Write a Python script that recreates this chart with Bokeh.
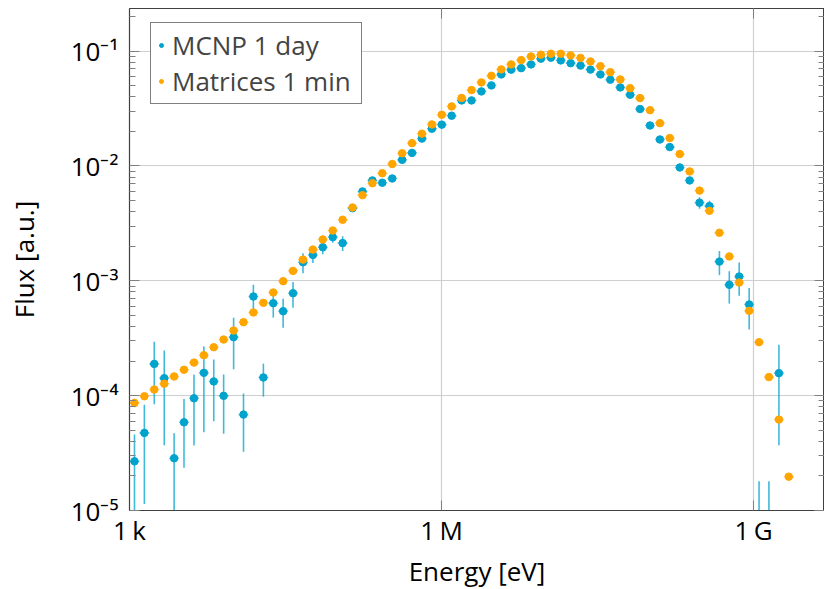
import numpy as np
from bokeh.plotting import figure
from bokeh.models import (ColumnDataSource, FixedTicker, LogAxis, Legend, LegendItem,
                          Range1d, CustomJSTickFormatter)
from bokeh.embed import file_html
from bokeh.resources import INLINE

# ---- data (log10 of bin-centre energy in eV) ----
log_energy = [3.048, 3.143, 3.238, 3.334, 3.429, 3.524, 3.620, 3.715, 3.810, 3.905,
              4.001, 4.096, 4.191, 4.287, 4.382, 4.477, 4.572, 4.668, 4.763, 4.858,
              4.954, 5.049, 5.144, 5.240, 5.335, 5.430, 5.526, 5.621, 5.716, 5.811,
              5.907, 6.002, 6.097, 6.193, 6.288, 6.383, 6.479, 6.574, 6.669, 6.765,
              6.860, 6.955, 7.051, 7.146, 7.241, 7.336, 7.432, 7.527, 7.622, 7.718,
              7.813, 7.908, 8.004, 8.099, 8.194, 8.290, 8.385, 8.480, 8.575, 8.671,
              8.766, 8.861, 8.957, 9.052, 9.147, 9.243, 9.338]
half_bin_decades = 0.0476

matrices_flux = [8.65e-5, 9.88e-5, 1.13e-4, 1.27e-4, 1.47e-4, 1.68e-4, 1.94e-4, 2.25e-4, 2.64e-4, 3.08e-4,
                 3.69e-4, 4.36e-4, 5.30e-4, 6.43e-4, 7.91e-4, 9.93e-4, 1.22e-3, 1.53e-3, 1.87e-3, 2.29e-3,
                 2.74e-3, 3.40e-3, 4.35e-3, 5.57e-3, 7.08e-3, 8.65e-3, 1.04e-2, 1.29e-2, 1.58e-2, 1.91e-2,
                 2.30e-2, 2.79e-2, 3.30e-2, 3.91e-2, 4.58e-2, 5.34e-2, 6.10e-2, 6.93e-2, 7.66e-2, 8.35e-2,
                 8.99e-2, 9.31e-2, 9.48e-2, 9.48e-2, 9.18e-2, 8.73e-2, 8.13e-2, 7.40e-2, 6.56e-2, 5.67e-2,
                 4.76e-2, 3.90e-2, 3.06e-2, 2.36e-2, 1.75e-2, 1.27e-2, 8.96e-3, 6.10e-3, 4.07e-3, 2.62e-3,
                 1.63e-3, 9.66e-4, 5.48e-4, 2.92e-4, 1.45e-4, 6.19e-5, 1.97e-5]

mcnp_flux = [2.68e-5, 4.74e-5, 1.89e-4, 1.42e-4, 2.85e-5, 5.86e-5, 9.49e-5, 1.58e-4, 1.33e-4, 9.96e-5,
             3.23e-4, 6.84e-5, 7.30e-4, 1.44e-4, 6.38e-4, 5.44e-4, 7.80e-4, 1.45e-3, 1.68e-3, 1.96e-3,
             2.40e-3, 2.13e-3, 4.29e-3, 6.00e-3, 7.48e-3, 7.14e-3, 7.78e-3, 1.13e-2, 1.30e-2, 1.73e-2,
             2.11e-2, 2.29e-2, 2.74e-2, 3.72e-2, 3.72e-2, 4.46e-2, 5.03e-2, 6.27e-2, 6.89e-2, 7.11e-2,
             7.66e-2, 8.59e-2, 8.77e-2, 8.30e-2, 7.86e-2, 7.48e-2, 6.90e-2, 6.27e-2, 5.64e-2, 4.83e-2,
             4.17e-2, 3.13e-2, 2.25e-2, 1.70e-2, 1.46e-2, 9.70e-3, 7.48e-3, 4.79e-3, 4.47e-3, 1.47e-3,
             9.23e-4, 1.09e-3, 6.22e-4, 6.0e-6, 6.0e-6, 1.57e-4, float("nan")]

mcnp_sigma = [1.9e-5, 3.6e-5, 1.05e-4, 1.05e-4, 1.85e-5, 3.5e-5, 5.8e-5, 1.1e-4, 7.3e-5, 5.3e-5,
              1.53e-4, 3.6e-5, 1.95e-4, 4.6e-5, 1.6e-4, 1.53e-4, 1.97e-4, 2.85e-4, 2.5e-4, 2.6e-4,
              2.5e-4, 3.1e-4, 2.5e-4, 3.0e-4, 3.5e-4, 4.0e-4, 4.0e-4, 5.0e-4, 5.0e-4, 6.0e-4,
              6.5e-4, 7.0e-4, 8.0e-4, 1.0e-3, 1.0e-3, 1.1e-3, 1.2e-3, 1.4e-3, 1.5e-3, 1.5e-3,
              1.6e-3, 1.7e-3, 1.7e-3, 1.7e-3, 1.6e-3, 1.6e-3, 1.5e-3, 1.4e-3, 1.3e-3, 1.2e-3,
              1.1e-3, 9.0e-4, 7.0e-4, 6.0e-4, 5.5e-4, 4.5e-4, 4.0e-4, 5.5e-4, 5.2e-4, 3.5e-4,
              2.9e-4, 3.5e-4, 2.45e-4, 1.2e-5, 1.2e-5, 1.2e-4, float("nan")]

x_tick_values = [1e3, 1e6, 1e9]
x_tick_names = {"3": "1\u2009k", "6": "1\u2009M", "9": "1\u2009G"}
y_tick_values = [1e-5, 1e-4, 1e-3, 1e-2, 1e-1]
series_names = ["MCNP 1 day", "Matrices 1 min"]

BLUE = "#00a3cc"
ORANGE = "#ffa500"
FONT = "Open Sans"
FS = "26px"

# ---- derived columns ----
E = 10 ** np.array(log_energy)
f = 10 ** half_bin_decades
mf = np.array(mcnp_flux)
ms = np.array(mcnp_sigma)
lo = np.where(mf - ms > 0, mf - ms, 1e-9)
hi = mf + ms

src_m = ColumnDataSource(dict(x=E, xl=E / f, xh=E * f, y=mf, lo=lo, hi=hi))
src_t = ColumnDataSource(dict(x=E, xl=E / f, xh=E * f, y=np.array(matrices_flux)))

p = figure(x_axis_type="log", y_axis_type="log",
           x_range=Range1d(1e3, 4.8e9), y_range=Range1d(1e-5, 0.235),
           frame_width=695, frame_height=502,
           min_border_left=129, min_border_right=0, min_border_top=8, min_border_bottom=79,
           output_backend="svg", toolbar_location=None)
p.background_fill_color = "white"
p.border_fill_color = "white"
p.outline_line_color = "#404040"

xt = FixedTicker(ticks=x_tick_values, minor_ticks=[])
yminor = [m * d for d in [1e-6, 1e-5, 1e-4, 1e-3, 1e-2, 1e-1] for m in range(2, 10)]
yt = FixedTicker(ticks=y_tick_values, minor_ticks=yminor)

xfmt = CustomJSTickFormatter(args=dict(names=x_tick_names), code="""
const e = String(Math.round(Math.log10(tick)));
return names[e] || "";
""")
yfmt = CustomJSTickFormatter(code="""
const e = String(Math.round(Math.log10(tick)));
const sup = {"-":"\u207b","0":"\u2070","1":"\u00b9","2":"\u00b2","3":"\u00b3","4":"\u2074","5":"\u2075","6":"\u2076","7":"\u2077","8":"\u2078","9":"\u2079"};
return "10" + e.split("").map(c => sup[c]).join("");
""")
blank = CustomJSTickFormatter(code="return '';")

def style_axis(ax):
    ax.axis_line_color = "#404040"
    ax.axis_line_width = 1.2
    ax.major_tick_in = 10
    ax.major_tick_out = 0
    ax.minor_tick_in = 6
    ax.minor_tick_out = 0
    ax.major_tick_line_color = "#808080"
    ax.minor_tick_line_color = "#808080"
    ax.major_label_text_font = FONT
    ax.major_label_text_font_size = FS
    ax.major_label_text_color = "black"
    ax.axis_label_text_font = FONT
    ax.axis_label_text_font_size = FS
    ax.axis_label_text_font_style = "normal"
    ax.axis_label_text_color = "black"

xa = p.xaxis[0]
xa.ticker = xt
xa.formatter = xfmt
style_axis(xa)
xa.axis_label = "Energy [eV]"
xa.major_label_standoff = 1
xa.axis_label_standoff = 2

ya = p.yaxis[0]
ya.ticker = yt
ya.formatter = yfmt
style_axis(ya)
ya.axis_label = "Flux [a.u.]"
ya.major_label_standoff = 11
ya.axis_label_standoff = 26

top = LogAxis(ticker=xt, formatter=blank)
style_axis(top)
top.major_label_text_font_size = "0px"
top.major_label_standoff = 0
p.add_layout(top, "above")

right = LogAxis(ticker=yt, formatter=blank)
style_axis(right)
right.major_label_text_font_size = "0px"
right.major_label_standoff = 0
p.add_layout(right, "right")

p.xgrid.ticker = xt
p.ygrid.ticker = yt
p.xgrid.grid_line_color = "#cfcfcf"
p.ygrid.grid_line_color = "#cfcfcf"
p.xgrid.grid_line_width = 1.2
p.ygrid.grid_line_width = 1.2

# MCNP (blue) with error bars
p.segment(x0="xl", y0="y", x1="xh", y1="y", source=src_m, line_color=BLUE, line_alpha=0.55, line_width=1.6)
p.segment(x0="x", y0="lo", x1="x", y1="hi", source=src_m, line_color=BLUE, line_alpha=0.75, line_width=1.6)
r_m = p.scatter("x", "y", source=src_m, size=7.5, marker="circle", fill_color=BLUE, line_color=BLUE)

# Matrices (orange)
p.segment(x0="xl", y0="y", x1="xh", y1="y", source=src_t, line_color=ORANGE, line_alpha=0.55, line_width=1.6)
r_t = p.scatter("x", "y", source=src_t, size=7.5, marker="circle", fill_color=ORANGE, line_color=ORANGE)

legend = Legend(items=[LegendItem(label=series_names[0], renderers=[r_m]),
                       LegendItem(label=series_names[1], renderers=[r_t])],
                location=(21, 406), padding=4, spacing=0,
                glyph_width=12, glyph_height=10, label_standoff=5, label_width=185,
                label_text_font=FONT, label_text_font_size=FS,
                border_line_color="black", border_line_width=1.2,
                background_fill_color="white", background_fill_alpha=1)
p.add_layout(legend)

open("out.html", "w").write(file_html(p, INLINE))
